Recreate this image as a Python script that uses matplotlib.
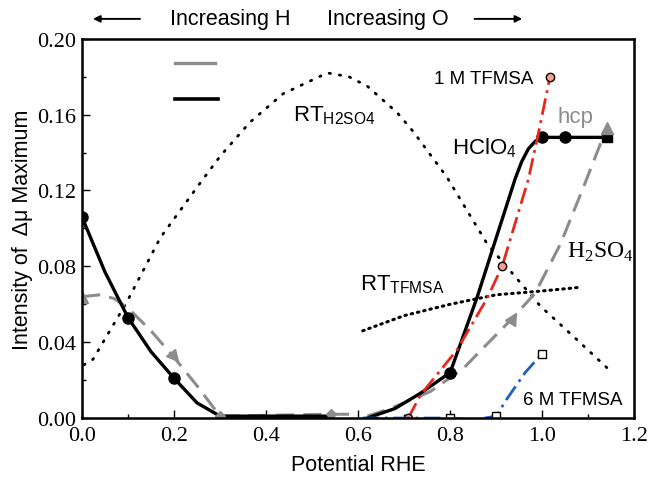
import matplotlib
matplotlib.use("Agg")
import matplotlib.pyplot as plt
from matplotlib.patches import FancyArrowPatch
from matplotlib.markers import MarkerStyle
from matplotlib.transforms import Affine2D

# HClO4 (black solid) traced line and markers
hclo4_lo_v = [0.0, 0.05, 0.1, 0.15, 0.2, 0.25, 0.3, 0.54]
hclo4_lo_i = [0.106, 0.077, 0.053, 0.035, 0.021, 0.008, 0.001, 0.001]
hclo4_hi_v = [0.62, 0.68, 0.735, 0.8, 0.859, 0.9, 0.941, 0.955, 0.97, 0.985, 1.0, 1.05, 1.14]
hclo4_hi_i = [0.0, 0.005, 0.013, 0.024, 0.064, 0.095, 0.126, 0.135, 0.142, 0.146, 0.148, 0.148, 0.148]
hclo4_pts_v = [0.0, 0.1, 0.2, 0.8, 1.0, 1.05]
hclo4_pts_i = [0.106, 0.053, 0.021, 0.024, 0.148, 0.148]

# H2SO4 (gray dashed)
h2so4_lo_v = [0.0, 0.04, 0.07, 0.1, 0.15, 0.2, 0.25, 0.3, 0.54, 0.6]
h2so4_lo_i = [0.064, 0.065, 0.063, 0.058, 0.046, 0.032, 0.017, 0.001, 0.002, 0.002]
h2so4_hi_v = [0.62, 0.67, 0.757, 0.828, 0.88, 0.937, 0.985, 1.04, 1.09, 1.14]
h2so4_hi_i = [0.001, 0.005, 0.014, 0.026, 0.039, 0.053, 0.066, 0.092, 0.122, 0.153]

# 1 M TFMSA (red dash-dot)
tf1_v = [0.709, 0.735, 0.815, 0.88, 0.913, 0.97, 0.989, 1.017]
tf1_i = [0.0, 0.012, 0.036, 0.063, 0.080, 0.126, 0.147, 0.180]
tf1_pts_v = [0.709, 0.913, 1.017]
tf1_pts_i = [0.0, 0.080, 0.180]

# 6 M TFMSA (blue dash-dot)
tf6_v = [0.61, 0.7, 0.8, 0.85, 0.9, 0.923, 0.963, 1.0]
tf6_i = [0.0, 0.0, 0.0, -0.001, 0.001, 0.010, 0.024, 0.034]
tf6_pts_v = [0.8, 0.9, 1.0]
tf6_pts_i = [0.0, 0.001, 0.034]

# RT curves (dotted)
rt_h2so4_v = [0.004, 0.024, 0.097, 0.17, 0.257, 0.30, 0.365, 0.437, 0.533, 0.58, 0.62,
              0.685, 0.72, 0.793, 0.88, 0.996, 1.068, 1.143]
rt_h2so4_i = [0.028, 0.031, 0.061, 0.095, 0.124, 0.138, 0.156, 0.171, 0.182, 0.180, 0.175,
              0.161, 0.151, 0.127, 0.092, 0.059, 0.043, 0.026]
rt_tfmsa_v = [0.61, 0.7, 0.8, 0.9, 1.0, 1.085]
rt_tfmsa_i = [0.046, 0.054, 0.060, 0.065, 0.067, 0.069]

gray = "#8c8c8c"
serif = "Liberation Serif"
sans = "Liberation Sans"

fig = plt.figure(figsize=(6.49, 4.85), dpi=100)
ax = fig.add_axes([0.1263, 0.136, 0.851, 0.782])

ax.plot(rt_h2so4_v, rt_h2so4_i, color="black", lw=2, ls=(0, (0.5, 3.2)), dash_capstyle="round")
ax.plot(rt_tfmsa_v, rt_tfmsa_i, color="black", lw=2.2, ls=(0, (0.5, 1.6)), dash_capstyle="round")

ax.plot(h2so4_lo_v, h2so4_lo_i, color=gray, lw=2.2, ls=(0, (6, 3)))
ax.plot(h2so4_hi_v, h2so4_hi_i, color=gray, lw=2.2, ls=(0, (6, 3)))

ax.plot(hclo4_lo_v, hclo4_lo_i, color="black", lw=2.4)
ax.plot(hclo4_hi_v, hclo4_hi_i, color="black", lw=2.4)
ax.plot(hclo4_pts_v, hclo4_pts_i, "o", color="black", ms=8)
ax.plot([1.14], [0.148], "s", color="black", ms=7)

ax.plot(tf1_v, tf1_i, color="#e8281e", lw=2, ls=(0, (6, 2, 1, 2)))
ax.plot(tf1_pts_v, tf1_pts_i, "o", mfc="#f4a08c", mec="black", ms=6, mew=1)

ax.plot(tf6_v, tf6_i, color="#1f5fc0", lw=2, ls=(0, (6, 2, 1, 2)))
ax.plot(tf6_pts_v, tf6_pts_i, "s", mfc="white", mec="black", ms=5.5, mew=1)

# H2SO4 markers (triangles / diamonds)
ax.plot([0.0], [0.064], marker="^", color=gray, ms=8)
ax.plot([0.3, 0.54], [0.001, 0.002], "D", color=gray, ms=5)
ax.plot([0.2], [0.032], marker=MarkerStyle("^", transform=Affine2D().rotate_deg(-140)),
        color=gray, ms=8)
ax.plot([0.937], [0.053], marker=MarkerStyle("^", transform=Affine2D().rotate_deg(-30)),
        color=gray, ms=8)
ax.plot([1.14], [0.153], marker="^", color=gray, ms=9)

# key lines without text
ax.plot([0.202, 0.289], [0.187, 0.187], color=gray, lw=2.4)
ax.plot([0.202, 0.295], [0.168, 0.168], color="black", lw=2.6)

ax.set_xlim(0, 1.2)
ax.set_ylim(0, 0.2)
ax.set_xticks([0.0, 0.2, 0.4, 0.6, 0.8, 1.0, 1.2])
ax.set_xticks([0.1, 0.3, 0.5, 0.7, 0.9, 1.1], minor=True)
ax.set_yticks([0.0, 0.04, 0.08, 0.12, 0.16, 0.20])
ax.set_yticks([0.02, 0.06, 0.10, 0.14, 0.18], minor=True)
ax.set_xticklabels(["0.0", "0.2", "0.4", "0.6", "0.8", "1.0", "1.2"])
ax.set_yticklabels(["0.00", "0.04", "0.08", "0.12", "0.16", "0.20"])
ax.tick_params(which="both", direction="in", width=1, labelsize=16)
ax.tick_params(which="major", length=6)
ax.tick_params(which="minor", length=3)
ax.tick_params(axis="x", which="major", pad=6)
ax.tick_params(axis="y", which="major", pad=4)
for lab in ax.get_xticklabels() + ax.get_yticklabels():
    lab.set_family(serif)
for s in ax.spines.values():
    s.set_linewidth(1.8)

ax.set_xlabel("Potential RHE", family=sans, fontsize=15.5, labelpad=6)
ax.set_ylabel("Intensity of  \u0394\u03bc Maximum", family=sans, fontsize=15.5, labelpad=3)

ax.text(0.98, 0.179, "1 M TFMSA", family=sans, fontsize=13.5, ha="right", va="center")
ax.text(1.072, 0.159, "hcp", family=sans, fontsize=16, color=gray, ha="center", va="center")
ax.text(0.804, 0.143, r"HClO$_{\mathregular{4}}$", family=sans, fontsize=16, ha="left", va="center")
ax.text(1.054, 0.088, r"H$_{\mathregular{2}}$SO$_{\mathregular{4}}$", family=serif, fontsize=17,
        ha="left", va="center")
ax.text(0.459, 0.160, r"RT$_{\mathregular{H2SO4}}$", family=sans, fontsize=16, ha="left", va="center")
ax.text(0.604, 0.071, r"RT$_{\mathregular{TFMSA}}$", family=sans, fontsize=16, ha="left", va="center")
ax.text(0.959, 0.010, "6 M TFMSA", family=sans, fontsize=13.5, ha="left", va="center")

# header arrows
fig.text(0.447, 0.959, "Increasing H", family=sans, fontsize=15.5, ha="right", va="center")
fig.text(0.504, 0.959, "Increasing O", family=sans, fontsize=15.5, ha="left", va="center")
fig.patches.append(FancyArrowPatch(
    (0.220, 0.959), (0.139, 0.959), transform=fig.transFigure, arrowstyle="-|>",
    mutation_scale=10, lw=1.4, color="black"))
fig.patches.append(FancyArrowPatch(
    (0.727, 0.959), (0.809, 0.959), transform=fig.transFigure, arrowstyle="-|>",
    mutation_scale=10, lw=1.4, color="black"))

fig.savefig("out.png", dpi=100)
